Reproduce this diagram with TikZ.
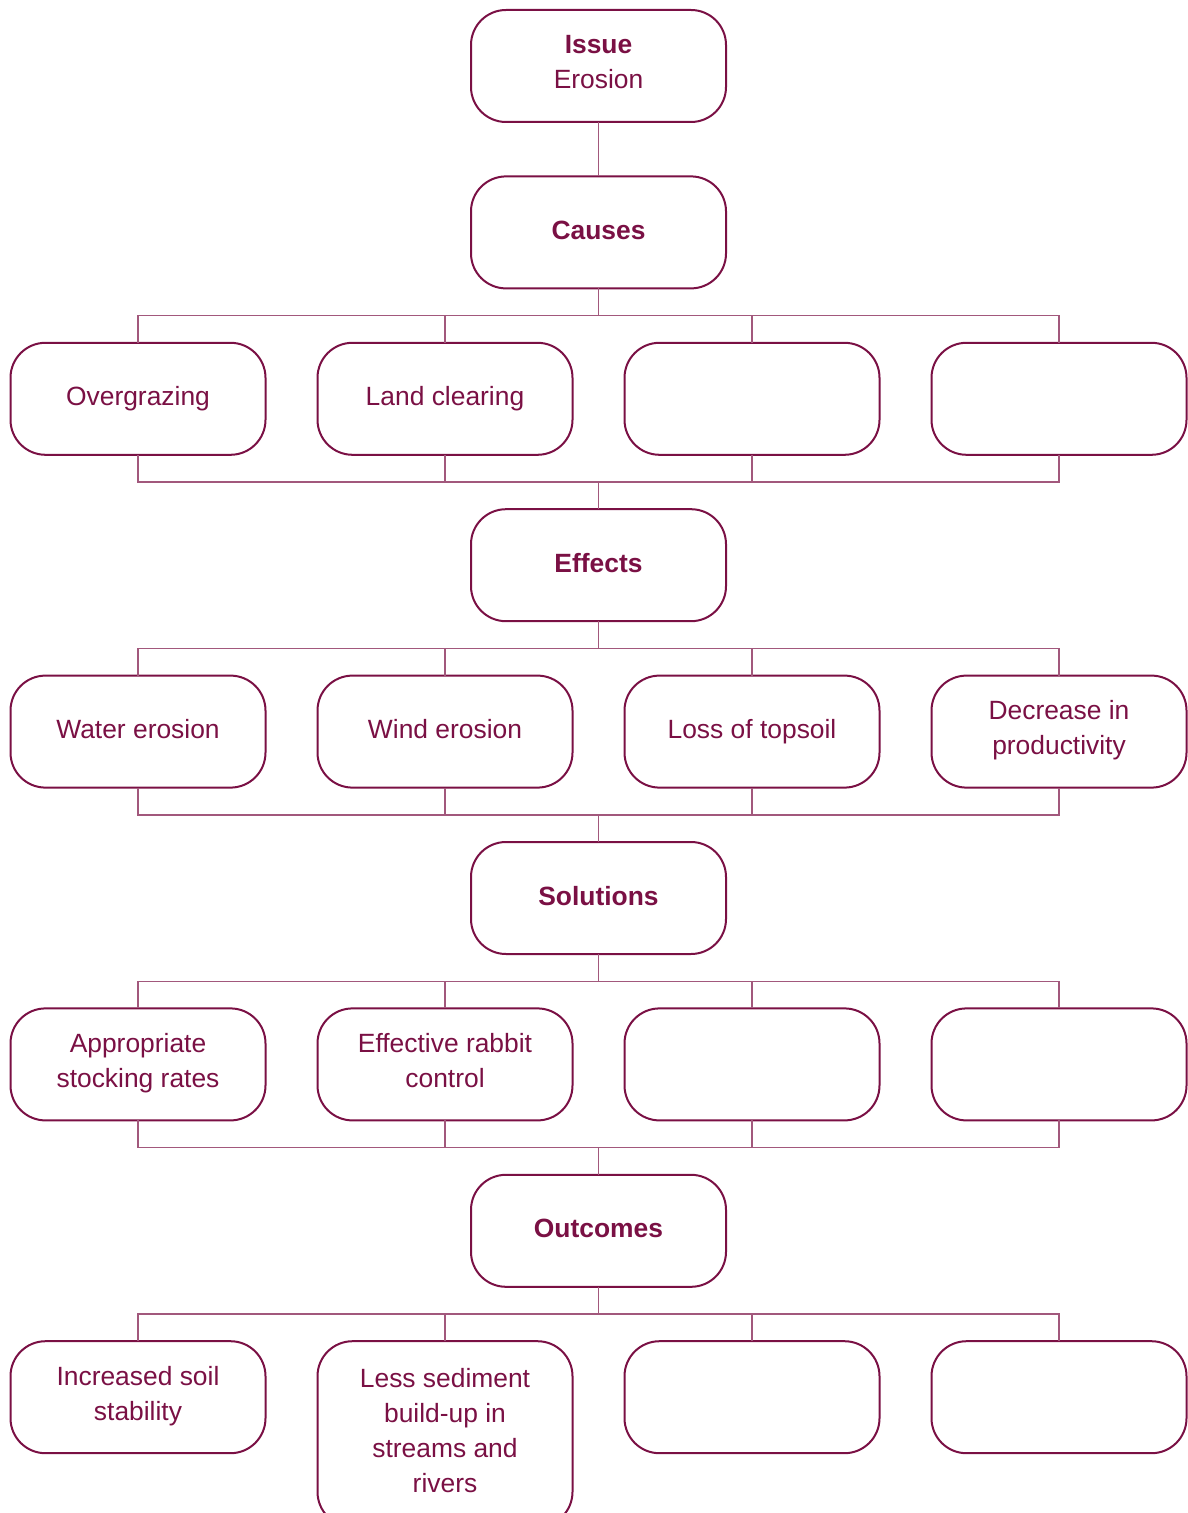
\documentclass[tikz,border=0pt]{standalone}
\usepackage{fontspec}
\setmainfont{Liberation Sans}
\usetikzlibrary{positioning}
\definecolor{plum}{RGB}{122,16,68}

\begin{document}
\begin{tikzpicture}[x=0.5pt, y=-0.5pt, node distance=27.2pt and 26pt,
  frame/.style={draw=plum, line width=1pt, rounded corners=17.5pt, text=plum,
    minimum width=127.5pt, minimum height=56pt, inner xsep=0pt, inner ysep=9.5pt,
    outer sep=0pt, align=center, font=\fontsize{13.2}{17.5}\selectfont},
  box/.style={frame, execute at begin node=\strut, execute at end node=\strut},
  lines/.style={frame, execute at begin node=\rule{0pt}{13.75pt},
    execute at end node=\rule[-3.75pt]{0pt}{3.75pt}},
  link/.style={draw=plum!70, line width=0.7pt}]
  \useasboundingbox (0,0) rectangle (1187,1513);

  \node (issue) [lines] at (598.5,66) {\textbf{Issue}\\Erosion};
  \node (causes) [box, below=of issue] {\textbf{Causes}};

  \node (c2) [box, below left=27.2pt and 13pt of causes.south] {Land clearing};
  \node (c3) [box, below right=27.2pt and 13pt of causes.south] {};
  \node (c1) [box, left=of c2] {Overgrazing};
  \node (c4) [box, right=of c3] {};

  \node (effects) [box, below=110.4pt of causes] {\textbf{Effects}};
  \node (e2) [box, below left=27.2pt and 13pt of effects.south] {Wind erosion};
  \node (e3) [box, below right=27.2pt and 13pt of effects.south] {Loss of topsoil};
  \node (e1) [box, left=of e2] {Water erosion};
  \node (e4) [lines, right=of e3] {Decrease in\\productivity};

  \node (solutions) [box, below=110.4pt of effects] {\textbf{Solutions}};
  \node (s2) [lines, below left=27.2pt and 13pt of solutions.south] {Effective rabbit\\control};
  \node (s3) [box, below right=27.2pt and 13pt of solutions.south] {};
  \node (s1) [lines, left=of s2] {Appropriate\\stocking rates};
  \node (s4) [box, right=of s3] {};

  \node (outcomes) [box, below=110.4pt of solutions] {\textbf{Outcomes}};
  \node (o2) [lines, inner ysep=13.5pt, below left=27.2pt and 13pt of outcomes.south]
    {Less sediment\\build-up in\\streams and\\rivers};
  \node (o3) [box, below right=27.2pt and 13pt of outcomes.south] {};
  \node (o1) [lines, left=of o2.north west, anchor=north east] {Increased soil\\stability};
  \node (o4) [box, right=of o3] {};

  \draw [link] (issue) -- (causes);
  % brackets round each row
  \draw [link] (causes.south) -- ++(0,-13.6pt)
    (c1.north) -- ++(0,13.6pt) -| (c4.north)
    (c2.north) -- ++(0,13.6pt) (c3.north) -- ++(0,13.6pt);
  \draw [link] (effects.north) -- ++(0,13.6pt)
    (c1.south) -- ++(0,-13.6pt) -| (c4.south)
    (c2.south) -- ++(0,-13.6pt) (c3.south) -- ++(0,-13.6pt);
  \draw [link] (effects.south) -- ++(0,-13.6pt)
    (e1.north) -- ++(0,13.6pt) -| (e4.north)
    (e2.north) -- ++(0,13.6pt) (e3.north) -- ++(0,13.6pt);
  \draw [link] (solutions.north) -- ++(0,13.6pt)
    (e1.south) -- ++(0,-13.6pt) -| (e4.south)
    (e2.south) -- ++(0,-13.6pt) (e3.south) -- ++(0,-13.6pt);
  \draw [link] (solutions.south) -- ++(0,-13.6pt)
    (s1.north) -- ++(0,13.6pt) -| (s4.north)
    (s2.north) -- ++(0,13.6pt) (s3.north) -- ++(0,13.6pt);
  \draw [link] (outcomes.north) -- ++(0,13.6pt)
    (s1.south) -- ++(0,-13.6pt) -| (s4.south)
    (s2.south) -- ++(0,-13.6pt) (s3.south) -- ++(0,-13.6pt);
  \draw [link] (outcomes.south) -- ++(0,-13.6pt)
    (o1.north) -- ++(0,13.6pt) -| (o4.north)
    (o2.north) -- ++(0,13.6pt) (o3.north) -- ++(0,13.6pt);
\end{tikzpicture}
\end{document}
